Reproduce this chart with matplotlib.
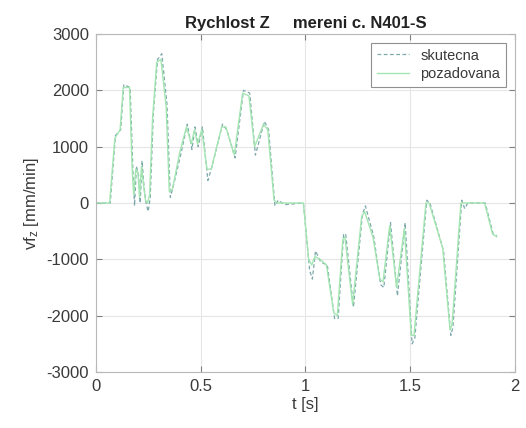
import matplotlib
matplotlib.use("Agg")
import matplotlib.pyplot as plt

plt.rcParams['font.family'] = ['Liberation Sans', 'DejaVu Sans']
plt.rcParams['mathtext.fontset'] = 'custom'
plt.rcParams['mathtext.rm'] = 'Liberation Sans'
plt.rcParams['mathtext.it'] = 'Liberation Sans'
plt.rcParams['axes.unicode_minus'] = False

# commanded velocity (pozadovana)
poz_t = [0, 0.065, 0.09, 0.115, 0.13, 0.16, 0.172, 0.18, 0.19, 0.2, 0.208, 0.217,
         0.226, 0.236, 0.246, 0.256, 0.27, 0.29, 0.31, 0.335, 0.35, 0.365, 0.4,
         0.432, 0.455, 0.47, 0.485, 0.505, 0.53, 0.55, 0.6, 0.62, 0.66, 0.7, 0.73,
         0.757, 0.8, 0.82, 0.85, 0.865, 0.99, 1.015, 1.03, 1.045, 1.07, 1.1, 1.135,
         1.152, 1.178, 1.188, 1.225, 1.268, 1.282, 1.322, 1.355, 1.37, 1.402, 1.435,
         1.472, 1.505, 1.518, 1.575, 1.59, 1.655, 1.69, 1.7, 1.742, 1.855, 1.893, 1.913]
poz_v = [0, 0, 1150, 1300, 2050, 2050, 650, 150, 600, 550, 100, 650,
         350, 50, 0, 150, 1500, 2500, 2550, 1700, 200, 250, 900,
         1350, 1050, 1300, 1050, 1300, 600, 600, 1350, 1350, 850, 1950, 1900,
         1000, 1400, 1300, 50, 0, 0, -1000, -1100, -950, -1000, -1100, -1950,
         -2000, -650, -600, -1800, -250, -150, -600, -1350, -1400, -400, -1500,
         -450, -2350, -2350, 0, 0, -800, -2250, -2150, 0, 0, -550, -600]

# measured velocity (skutecna)
sku_t = [0, 0.068, 0.093, 0.118, 0.133, 0.163, 0.176, 0.184, 0.193, 0.203, 0.211, 0.22,
         0.229, 0.239, 0.249, 0.259, 0.274, 0.294, 0.314, 0.339, 0.355, 0.369, 0.404,
         0.436, 0.458, 0.473, 0.488, 0.508, 0.534, 0.554, 0.604, 0.624, 0.664, 0.704,
         0.734, 0.761, 0.804, 0.824, 0.854, 0.87, 0.9, 0.99, 1.02, 1.033, 1.048, 1.073,
         1.104, 1.139, 1.156, 1.182, 1.192, 1.229, 1.272, 1.286, 1.326, 1.359, 1.374,
         1.406, 1.439, 1.476, 1.509, 1.522, 1.579, 1.594, 1.659, 1.694, 1.704, 1.746,
         1.76, 1.775, 1.858, 1.896, 1.913]
sku_v = [0, 0, 1200, 1300, 2100, 2050, 600, -50, 650, 500, 0, 750,
         300, 0, -150, 100, 1600, 2550, 2650, 1750, 100, 300, 850,
         1400, 950, 1350, 1000, 1350, 400, 650, 1400, 1300, 800, 2000,
         1950, 850, 1450, 1300, -50, 50, -30, 0, -1200, -1350, -850, -1050,
         -1100, -2050, -2050, -550, -550, -1850, -200, -50, -600, -1450, -1500,
         -350, -1650, -350, -2500, -2400, 50, 0, -850, -2350, -2200, 50,
         -100, 0, 0, -550, -580]

x_ticks = [0, 0.5, 1, 1.5, 2]
y_ticks = [-3000, -2000, -1000, 0, 1000, 2000, 3000]

fig = plt.figure(figsize=(5.26, 4.28), dpi=100)
ax = fig.add_axes([0.1825, 0.1308, 0.7965, 0.7898])

ax.plot(sku_t, sku_v, linestyle=(0, (3, 2)), color='#7da9ab', linewidth=0.9, label='skutecna')
ax.plot(poz_t, poz_v, linestyle='-', color='#a4e6b2', linewidth=1.0, label='pozadovana')

ax.set_xlim(0, 2)
ax.set_ylim(-3000, 3000)
ax.set_xticks(x_ticks)
ax.set_xticklabels(['0', '0.5', '1', '1.5', '2'])
ax.set_yticks(y_ticks)
ax.grid(True, color='#e6e6e6', linewidth=0.8)
ax.set_axisbelow(True)
for s in ax.spines.values():
    s.set_color('#b8b8b8')
    s.set_linewidth(0.8)
ax.tick_params(direction='in', top=True, right=True, length=4, color='#808080',
               labelcolor='#3a3a3a', labelsize=12, pad=5)

ax.set_title('Rychlost Z     mereni c. N401-S', fontsize=12, fontweight='bold',
             color='#222222', pad=4)
ax.set_xlabel('t [s]', fontsize=12, color='#3a3a3a', labelpad=2)
ax.set_ylabel('vf$_z$ [mm/min]', fontsize=12, color='#3a3a3a', labelpad=4)

leg = ax.legend(loc='upper right', fontsize=10.5, fancybox=False, framealpha=1,
                edgecolor='#909090', handlelength=2.2, borderpad=0.4,
                labelspacing=0.3, borderaxespad=0.6)
leg.get_frame().set_linewidth(0.8)
for t in leg.get_texts():
    t.set_color('#3a3a3a')

fig.savefig('out.png', dpi=100)
